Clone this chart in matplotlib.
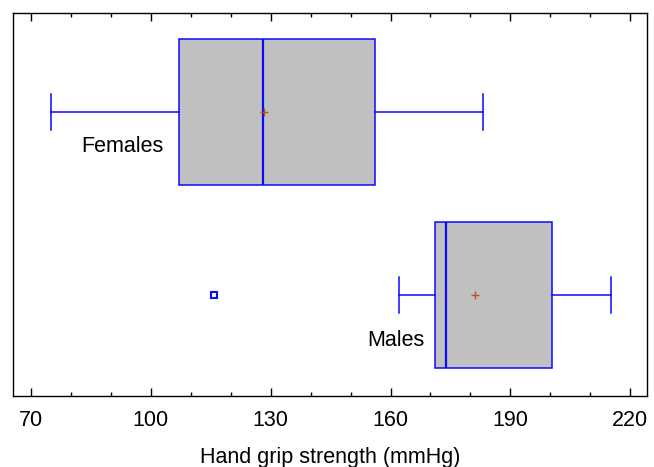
import matplotlib
matplotlib.use("Agg")
import matplotlib.pyplot as plt
from matplotlib.ticker import MultipleLocator

groups = ["Males", "Females"]
whislo = [162.2, 74.9]
q1 = [171.1, 107.0]
med = [174.0, 128.0]
q3 = [200.4, 156.2]
whishi = [215.2, 183.2]
means = [181.2, 128.4]
fliers = [[115.8], []]
tick_values = [70, 100, 130, 160, 190, 220]

plt.rcParams['font.family'] = ['Liberation Sans', 'DejaVu Sans']

fig = plt.figure(figsize=(6.54, 4.67), dpi=100)
ax = fig.add_axes([0.0194, 0.1527, 0.9704, 0.8195])

stats = []
for i in range(len(groups)):
    stats.append(dict(label=groups[i], whislo=whislo[i], q1=q1[i], med=med[i],
                      q3=q3[i], whishi=whishi[i], mean=means[i], fliers=fliers[i]))

blue = "#0a0aff"
ax.bxp(stats, positions=[1, 2], vert=False, widths=0.8, patch_artist=True,
       showmeans=True, showcaps=True,
       boxprops=dict(facecolor="#c0c0c0", edgecolor=blue, linewidth=1.1),
       medianprops=dict(color=blue, linewidth=1.6),
       whiskerprops=dict(color=blue, linewidth=1.1),
       capprops=dict(color=blue, linewidth=1.1),
       capwidths=0.2,
       meanprops=dict(marker="+", markeredgecolor="#c0501a", markersize=6, markeredgewidth=1.0),
       flierprops=dict(marker="s", markerfacecolor="white", markeredgecolor=blue,
                       markersize=5, markeredgewidth=1.5))

ax.set_xlim(65.4, 224.3)
ax.set_ylim(0.4474, 2.543)
ax.set_yticks([])
ax.xaxis.set_minor_locator(MultipleLocator(10))
ax.set_xticks(tick_values)
ax.set_xticklabels([str(v) for v in tick_values])
ax.tick_params(axis='x', which='both', direction='in', top=True, bottom=True, labelsize=15.5)
ax.tick_params(axis='x', which='major', length=6, width=1, pad=10)
ax.tick_params(axis='x', which='minor', length=3, width=1)
ax.set_xlabel("Hand grip strength (mmHg)", fontsize=15.5, labelpad=11.5)

ax.annotate("Females", xy=(122, 467 - 146), xycoords='figure pixels', fontsize=15.5,
            ha="center", va="center")
ax.annotate("Males", xy=(396, 467 - 340), xycoords='figure pixels', fontsize=15.5,
            ha="center", va="center")

for s in ax.spines.values():
    s.set_linewidth(1.0)

fig.savefig("out.png", dpi=100)
